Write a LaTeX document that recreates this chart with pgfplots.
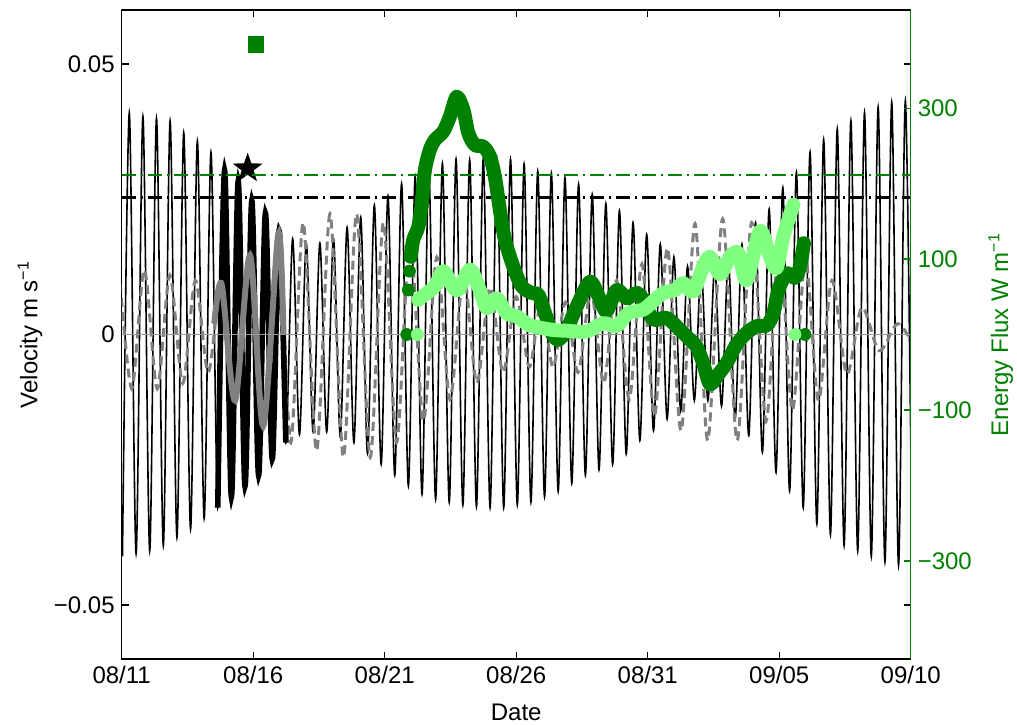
\documentclass[border=0pt]{standalone}
\usepackage{pgfplots}
\pgfplotsset{compat=1.18}
\usepackage{fontspec}
\setmainfont{Liberation Sans}
\definecolor{dgreen}{RGB}{0,128,0}
\definecolor{lgreen}{RGB}{128,255,128}
\definecolor{mgray}{RGB}{128,128,128}
\definecolor{zgray}{RGB}{150,150,150}
\pgfdeclareplotmark{fivestar}{%
  \pgfpathmoveto{\pgfqpointpolar{90}{\pgfplotmarksize}}%
  \pgfpathlineto{\pgfqpointpolar{126}{0.40\pgfplotmarksize}}%
  \pgfpathlineto{\pgfqpointpolar{162}{\pgfplotmarksize}}%
  \pgfpathlineto{\pgfqpointpolar{198}{0.40\pgfplotmarksize}}%
  \pgfpathlineto{\pgfqpointpolar{234}{\pgfplotmarksize}}%
  \pgfpathlineto{\pgfqpointpolar{270}{0.40\pgfplotmarksize}}%
  \pgfpathlineto{\pgfqpointpolar{306}{\pgfplotmarksize}}%
  \pgfpathlineto{\pgfqpointpolar{342}{0.40\pgfplotmarksize}}%
  \pgfpathlineto{\pgfqpointpolar{18}{\pgfplotmarksize}}%
  \pgfpathlineto{\pgfqpointpolar{54}{0.40\pgfplotmarksize}}%
  \pgfpathclose
  \pgfusepathqfill}
\begin{document}
\begin{tikzpicture}
\path[use as bounding box] (-60.85pt,-32.5pt) rectangle (447.65pt,329.5pt);
\begin{axis}[
  at={(0pt,0pt)}, anchor=south west,
  scale only axis, width=394.5pt, height=324.5pt,
  xmin=0, xmax=30, ymin=-0.06, ymax=0.06,
  xtick={0,5,10,15,20,25,30},
  xticklabels={08/11,08/16,08/21,08/26,08/31,09/05,09/10},
  ytick={-0.05,0,0.05}, yticklabels={−0.05,0,0.05},
  tick align=inside, major tick length=3.5pt,
  tick style={black, line width=0.6pt},
  axis line style={black, line width=0.6pt},
  tick label style={font=\fontsize{12}{14}\selectfont},
  label style={font=\fontsize{12}{14}\selectfont},
  xlabel={Date}, ylabel={Velocity m s\textsuperscript{−1}},
  xlabel style={at={(axis description cs:0.5,-0.082)}, anchor=center},
  ylabel style={at={(axis description cs:-0.1162,0.5)}, anchor=center},
]
% thin black semidiurnal velocity
\addplot[black, line width=0.8pt, smooth] coordinates {
(0.029,-0.041)
(0.288,0.041)(0.547,-0.0405)
(0.806,0.0403)(1.065,-0.040)
(1.323,0.040)(1.582,-0.039)
(1.841,0.0395)(2.100,-0.0375)
(2.359,0.0373)(2.618,-0.036)
(2.877,0.0358)(3.135,-0.034)
(3.394,0.0337)(3.653,-0.032)
(3.912,0.0303)(4.171,-0.030)
(4.430,0.0283)(4.689,-0.028)
(4.947,0.0247)(5.206,-0.026)
(5.465,0.0224)(5.724,-0.023)
(5.983,0.0192)(6.242,-0.020)
(6.500,0.0177)(6.759,-0.0185)
(7.018,0.0169)(7.277,-0.018)
(7.536,0.0169)(7.795,-0.018)
(8.054,0.0177)(8.312,-0.019)
(8.571,0.0198)(8.830,-0.020)
(9.089,0.0217)(9.348,-0.022)
(9.607,0.0239)(9.866,-0.024)
(10.124,0.0256)(10.383,-0.026)
(10.642,0.0279)(10.901,-0.028)
(11.160,0.0292)(11.419,-0.0295)
(11.677,0.0305)(11.936,-0.0305)
(12.195,0.0316)(12.454,-0.031)
(12.713,0.0324)(12.972,-0.0315)
(13.231,0.0323)(13.489,-0.0318)
(13.748,0.0325)(14.007,-0.032)
(14.266,0.0326)(14.525,-0.032)
(14.784,0.0324)(15.042,-0.0315)
(15.301,0.0315)(15.560,-0.031)
(15.819,0.0302)(16.078,-0.030)
(16.337,0.0298)(16.596,-0.029)
(16.854,0.029)(17.113,-0.0275)
(17.372,0.0278)(17.631,-0.026)
(17.890,0.0259)(18.149,-0.025)
(18.408,0.0242)(18.667,-0.024)
(18.925,0.0229)(19.184,-0.0221)
(19.443,0.0207)(19.702,-0.0196)
(19.961,0.0185)(20.220,-0.0178)
(20.478,0.0167)(20.737,-0.0156)
(20.996,0.0143)(21.255,-0.0141)
(21.514,0.0126)(21.773,-0.0122)
(22.031,0.0125)(22.290,-0.0122)
(22.549,0.0125)(22.808,-0.0132)
(23.067,0.014)(23.326,-0.0156)
(23.585,0.0167)(23.843,-0.0187)
(24.102,0.0207)(24.361,-0.0218)
(24.620,0.0232)(24.879,-0.0255)
(25.138,0.0272)(25.396,-0.0289)
(25.655,0.030)(25.914,-0.032)
(26.173,0.0337)(26.432,-0.035)
(26.691,0.036)(26.949,-0.037)
(27.208,0.038)(27.467,-0.039)
(27.726,0.0395)(27.985,-0.040)
(28.244,0.041)(28.502,-0.041)
(28.762,0.042)(29.020,-0.042)
(29.279,0.0429)(29.538,-0.0427)
(29.797,0.0432)(30.055,-0.0434)
};
% gray dashed diurnal velocity
\addplot[mgray, line width=1.5pt, smooth, dash pattern=on 4.5pt off 2.6pt] coordinates {
(-0.10,0.012)(0.38,-0.010)(0.86,0.012)(1.35,-0.010)(1.83,0.011)(2.32,-0.009)
(2.80,0.010)(3.29,-0.007)(3.80,0.0093)(4.31,-0.0122)(4.88,0.0146)(5.38,-0.0169)
(5.955,0.0186)(6.43,-0.020)(6.90,0.0207)(7.41,-0.0215)(7.92,0.0223)(8.43,-0.0227)
(8.93,0.0223)(9.45,-0.0227)(9.95,0.0207)(10.45,-0.020)(10.96,0.018)(11.47,-0.016)
(11.98,0.0143)(12.48,-0.012)(13.0,0.011)(13.5,-0.009)(14.0,0.0087)(14.5,-0.007)
(15.0,0.007)(15.5,-0.006)(15.95,0.006)(16.4,-0.006)(16.88,0.006)(17.35,-0.007)
(17.85,0.008)(18.33,-0.009)(18.82,0.010)(19.3,-0.012)(19.78,0.013)(20.26,-0.015)
(20.75,0.016)(21.27,-0.0178)(21.80,0.0205)(22.28,-0.0196)(22.85,0.0214)(23.40,-0.0196)
(23.95,0.0207)(24.50,-0.0160)(25.0,0.017)(25.5,-0.014)(26.0,0.014)(26.49,-0.0122)
(27.0,0.010)(27.57,-0.0073)(28.14,0.005)(28.8,-0.003)(29.5,0.002)(30.1,-0.002)
};
% black dash-dot threshold
\addplot[black, line width=1.2pt, dash pattern=on 7pt off 2.5pt on 1pt off 2.5pt] coordinates {(0,0.0253) (30,0.0253)};
% thick black segment
\addplot[black, line width=2.8pt, smooth] coordinates {
(3.653,-0.032)(3.912,0.0303)(4.171,-0.030)(4.430,0.0283)(4.689,-0.028)(4.947,0.0247)
(5.206,-0.026)(5.465,0.0224)(5.724,-0.023)(5.983,0.0192)(6.242,-0.020)
};
% thick gray segment
\addplot[mgray, line width=3pt, smooth] coordinates {
(3.52,0.002)(3.80,0.0093)(4.31,-0.0122)(4.88,0.0146)(5.38,-0.0169)(5.955,0.0186)(6.15,0.0)
};
% zero line
\addplot[zgray, line width=0.6pt] coordinates {(0,0) (30,0)};
% star
\addplot[only marks, mark=fivestar, mark size=7.9pt, black] coordinates {(4.79,0.0307)};
\end{axis}
\begin{axis}[
  at={(0pt,0pt)}, anchor=south west,
  scale only axis, width=394.5pt, height=324.5pt,
  xmin=0, xmax=30, ymin=-430, ymax=430,
  axis x line=none, axis y line*=right,
  ytick={-300,-100,100,300}, yticklabels={−300,−100,100,300},
  tick align=inside, major tick length=3.5pt,
  y axis line style={dgreen, line width=0.6pt},
  ytick style={dgreen, line width=0.6pt},
  yticklabel style={dgreen, font=\fontsize{12}{14}\selectfont},
  ylabel={Energy Flux W m\textsuperscript{−1}},
  ylabel style={dgreen, font=\fontsize{12}{14}\selectfont, at={(axis description cs:1.1140,0.5)}, anchor=center, rotate=0},
]
\addplot[dgreen, line width=1.2pt, dash pattern=on 7pt off 2.5pt on 1pt off 2.5pt] coordinates {(0,211) (30,211)};
\addplot[dgreen, line width=7pt, smooth, line cap=round, line join=round] coordinates {
(10.99,103)(11.09,126)(11.28,143)(11.41,174)(11.53,218)(11.72,245)(11.91,258)(12.23,269)
(12.48,289)(12.74,315)(12.99,298)(13.18,267)(13.43,251)(13.75,249)(14.00,236)(14.19,209)
(14.38,165)(14.57,126)(14.89,90)(15.21,64)(15.59,55)(15.84,53)(16.10,28)(16.35,2)
(16.60,-7)(16.92,6)(17.30,37)(17.81,70)(18.19,46)(18.44,31)(18.82,59)(19.20,48)
(19.58,55)(19.83,46)(20.21,20)(20.72,22)(21.23,6)(21.61,-7)(21.86,-16)(22.11,-38)
(22.37,-66)(22.68,-53)(23.00,-38)(23.38,-13)(23.76,2)(24.14,11)(24.52,12)(24.78,28)
(24.97,59)(25.29,81)(25.60,75)(25.79,90)(25.94,121)
};
\addplot[only marks, mark=*, mark size=3pt, dgreen] coordinates {(10.84,0)(10.90,59)(10.94,84)(25.98,0)};
\addplot[lgreen, line width=7pt, smooth, line cap=round, line join=round] coordinates {
(11.28,46)(11.60,55)(11.91,64)(12.23,84)(12.55,66)(12.80,59)(13.24,86)(13.56,64)
(13.88,35)(14.26,48)(14.64,28)(15.02,24)(15.46,13)(15.91,9)(16.41,6)(16.92,5)
(17.68,4)(18.31,15)(18.82,11)(19.26,28)(19.83,33)(20.21,44)(20.59,55)(21.04,59)
(21.35,68)(21.73,57)(22.11,90)(22.37,103)(22.75,80)(23.13,103)(23.45,108)(23.76,72)
(24.27,137)(24.65,103)(24.90,88)(25.16,130)(25.54,172)
};
\addplot[only marks, mark=*, mark size=3pt, lgreen] coordinates {(11.24,0)(25.60,0)};
\addplot[only marks, mark=square*, mark size=3.9pt, dgreen] coordinates {(5.11,384.5)};
\end{axis}
\end{tikzpicture}
\end{document}
